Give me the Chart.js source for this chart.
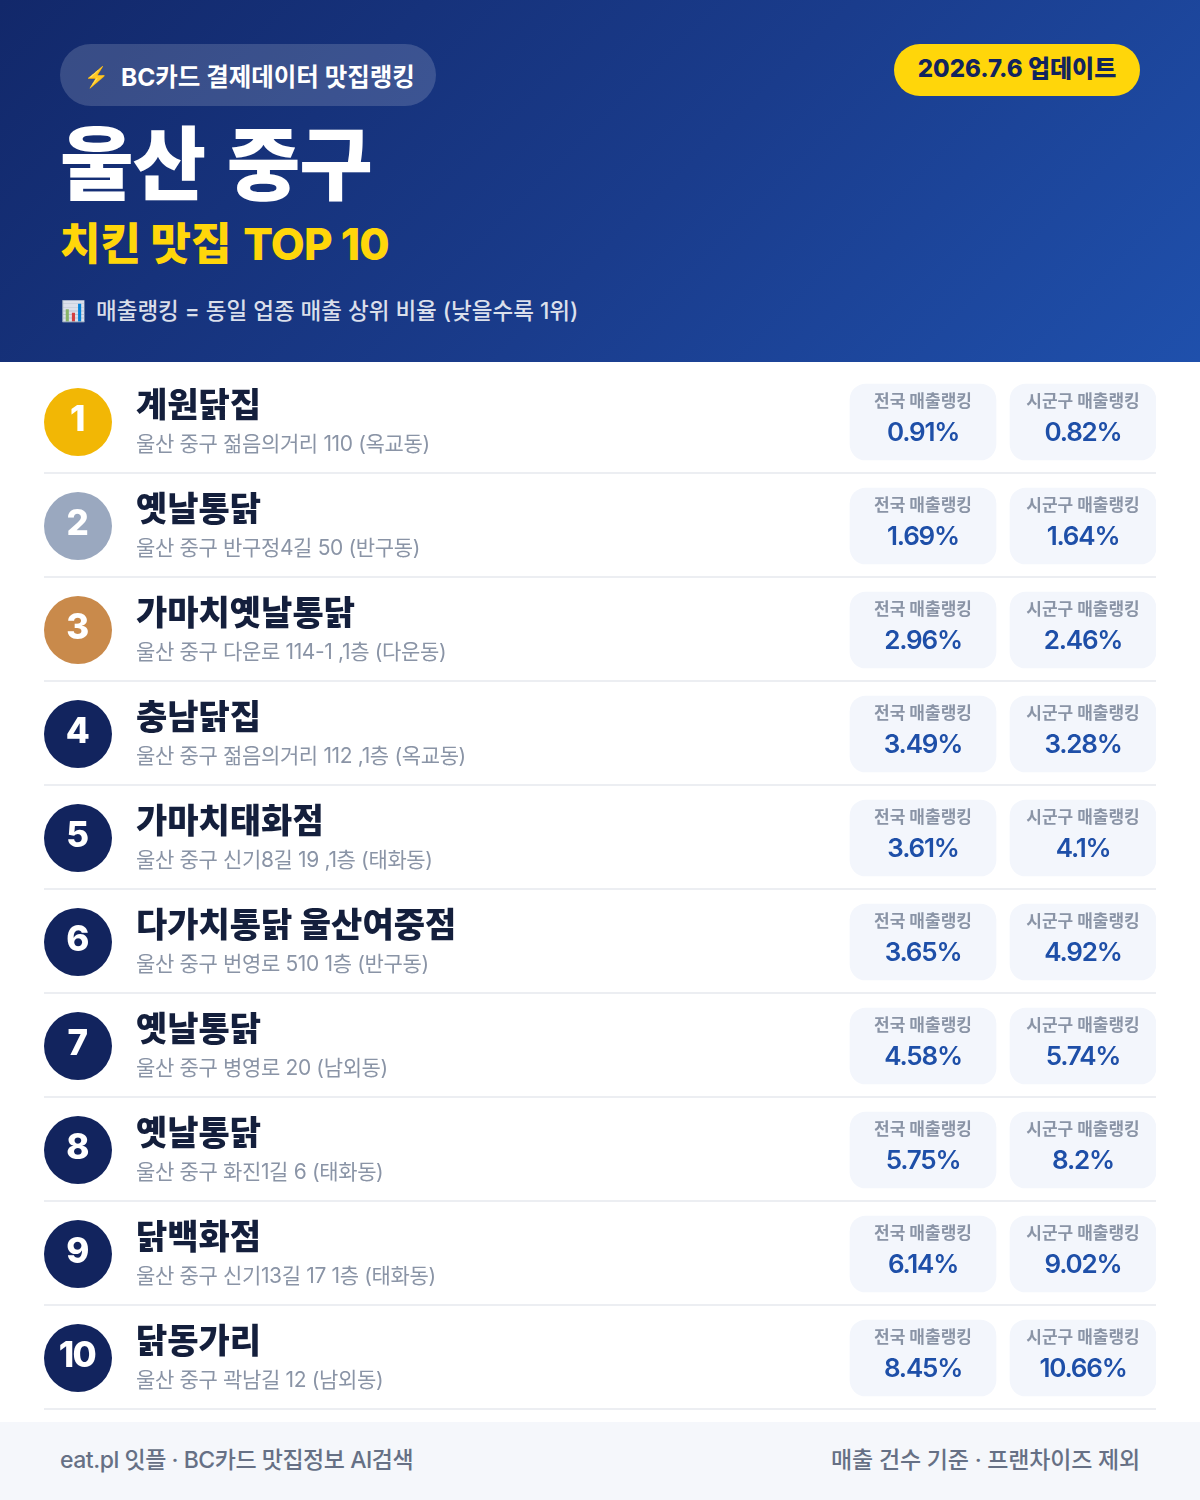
<!DOCTYPE html>
<html lang="ko">

<head>
    <meta charset="UTF-8">
    <title>울산 중구 치킨 맛집 TOP 10</title>
    <script src="https://cdn.jsdelivr.net/npm/chart.js"></script>
    <style>
        html, body {
            margin: 0;
            padding: 0;
            background: #fff;
        }

        body {
            position: relative;
            width: 1200px;
            height: 1500px;
            overflow: hidden;
            font-family: Inter, "Noto Sans CJK KR", sans-serif;
        }

        .header {
            position: absolute;
            left: 0;
            top: 0;
            width: 1200px;
            height: 362px;
            background: linear-gradient(135deg, #12286a 0%, #1a3c8c 55%, #1f50ac 100%);
        }

        .header div {
            position: absolute;
            white-space: nowrap;
        }

        .header span {
            position: absolute;
            white-space: nowrap;
        }

        .badge {
            left: 60px;
            top: 44px;
            width: 376px;
            height: 62px;
            border-radius: 31px;
            background: rgba(255, 255, 255, 0.16);
            color: #fff;
            font-size: 24.5px;
            font-weight: 700;
            line-height: 66px;
        }

        .update {
            left: 894px;
            top: 44px;
            width: 246px;
            height: 52px;
            border-radius: 26px;
            background: #ffd60a;
            color: #12245e;
            font-size: 24px;
            font-weight: 800;
            line-height: 50px;
            text-align: center;
        }

        .title {
            left: 60px;
            top: 105px;
            color: #fff;
            font-size: 80px;
            font-weight: 800;
            line-height: 118px;
            letter-spacing: -1px;
            word-spacing: 5px;
        }

        .subtitle {
            left: 60px;
            top: 212px;
            color: #ffd60a;
            font-size: 44px;
            font-weight: 800;
            line-height: 64px;
        }

        .subtitle b {
            margin-left: 2px;
            font-weight: inherit;
            letter-spacing: -0.8px;
        }

        .note {
            left: 60px;
            top: 292px;
            width: 540px;
            height: 38px;
            color: rgba(255, 255, 255, 0.85);
            font-size: 22.5px;
            font-weight: 500;
            line-height: 38px;
        }

        #rankChart {
            position: absolute;
            left: 0;
            top: 362px;
        }

        .footer {
            position: absolute;
            left: 0;
            top: 1422px;
            width: 1200px;
            height: 78px;
            background: #f5f7fb;
            color: #667085;
            font-size: 23px;
            font-weight: 500;
            line-height: 76px;
        }

        .footer span {
            position: absolute;
            white-space: nowrap;
        }
    </style>
</head>

<body>
    <div class="header">
        <div class="badge"><span style="left:24px;font-size:20px">⚡</span><span style="left:61px">BC카드 결제데이터 맛집랭킹</span></div>
        <div class="update">2026.7.6 업데이트</div>
        <div class="title">울산 중구</div>
        <div class="subtitle">치킨 맛집 <b>TOP 10</b></div>
        <div class="note"><span style="left:1px;font-size:20px">📊</span><span style="left:36px">매출랭킹 = 동일 업종 매출 상위 비율 (낮을수록 1위)</span></div>
    </div>

    <canvas id="rankChart" width="1200" height="1060"></canvas>

    <div class="footer">
        <span style="left:60px;letter-spacing:-0.47px">eat.pl 잇플 · BC카드 맛집정보 AI검색</span>
        <span style="right:60px;letter-spacing:-0.2px">매출 건수 기준 · 프랜차이즈 제외</span>
    </div>

    <script>
        const ranks = ['1', '2', '3', '4', '5', '6', '7', '8', '9', '10'];
        const names = ['계원닭집', '옛날통닭', '가마치옛날통닭', '충남닭집', '가마치태화점',
            '다가치통닭 울산여중점', '옛날통닭', '옛날통닭', '닭백화점', '닭동가리'];
        const addresses = [
            '울산 중구 젊음의거리 110 (옥교동)',
            '울산 중구 반구정4길 50 (반구동)',
            '울산 중구 다운로 114-1 ,1층 (다운동)',
            '울산 중구 젊음의거리 112 ,1층 (옥교동)',
            '울산 중구 신기8길 19 ,1층 (태화동)',
            '울산 중구 번영로 510 1층 (반구동)',
            '울산 중구 병영로 20 (남외동)',
            '울산 중구 화진1길 6 (태화동)',
            '울산 중구 신기13길 17 1층 (태화동)',
            '울산 중구 곽남길 12 (남외동)'
        ];
        const nationalRank = ['0.91%', '1.69%', '2.96%', '3.49%', '3.61%', '3.65%', '4.58%', '5.75%', '6.14%', '8.45%'];
        const districtRank = ['0.82%', '1.64%', '2.46%', '3.28%', '4.1%', '4.92%', '5.74%', '8.2%', '9.02%', '10.66%'];
        const nationalLabel = '전국 매출랭킹';
        const districtLabel = '시군구 매출랭킹';

        const FONT = 'Inter, "Noto Sans CJK KR", sans-serif';
        const circleColors = ['#f2b705', '#9aa8bf', '#c98a4b'];
        const NAVY = '#12245e';

        // x axis runs in page pixels, so the two cards and the badge sit in fixed columns
        const CIRCLE_X = 78;
        const NAME_X = 136;
        const NATIONAL_CARD = [850, 996];
        const DISTRICT_CARD = [1010, 1156];

        function cardMid(card) {
            return (card[0] + card[1]) / 2;
        }

        function drawText(ctx, text, x, y, font, color, align, spacing) {
            ctx.font = font;
            ctx.fillStyle = color;
            ctx.textAlign = align || 'left';
            ctx.textBaseline = 'alphabetic';
            ctx.letterSpacing = spacing || '0px';
            ctx.fillText(text, x, y);
        }

        // Row separators and all the text in the rows, placed through the chart's scales.
        const rowPlugin = {
            id: 'rowPlugin',
            beforeDatasetsDraw(chart) {
                const { ctx, scales: { x, y } } = chart;
                ctx.save();
                ctx.fillStyle = '#eceef2';
                ranks.forEach((r, i) => {
                    ctx.fillRect(x.left, y.getPixelForValue(i) + 50, x.right - x.left, 2);
                });
                ctx.restore();
            },
            afterDatasetsDraw(chart) {
                const { ctx, scales: { x, y } } = chart;
                ctx.save();
                ranks.forEach((r, i) => {
                    const cy = y.getPixelForValue(i);
                    drawText(ctx, r, x.getPixelForValue(CIRCLE_X) - 1, cy + 9, `800 35px ${FONT}`, '#fff', 'center', '-1.5px');
                    drawText(ctx, names[i], x.getPixelForValue(NAME_X), cy - 5, `800 34px ${FONT}`, '#141f3c');
                    drawText(ctx, addresses[i], x.getPixelForValue(NAME_X), cy + 29, `400 21px ${FONT}`, '#8a94a6', 'left', '-0.35px');

                    const nx = x.getPixelForValue(cardMid(NATIONAL_CARD));
                    const dx = x.getPixelForValue(cardMid(DISTRICT_CARD));
                    drawText(ctx, nationalLabel, nx, cy - 15, `700 17px ${FONT}`, '#8a94a6', 'center');
                    drawText(ctx, districtLabel, dx, cy - 15, `700 17px ${FONT}`, '#8a94a6', 'center');
                    drawText(ctx, nationalRank[i], nx, cy + 19, `600 26px ${FONT}`, '#1e4fa8', 'center', '-1.2px');
                    drawText(ctx, districtRank[i], dx, cy + 19, `600 26px ${FONT}`, '#1e4fa8', 'center', '-1.2px');
                });
                ctx.restore();
            }
        };

        new Chart(document.getElementById('rankChart'), {
            data: {
                labels: ranks,
                datasets: [
                    {
                        type: 'bar',
                        label: nationalLabel,
                        data: ranks.map(() => NATIONAL_CARD),
                        backgroundColor: '#f3f6fc',
                        borderRadius: 16,
                        borderSkipped: false,
                        barThickness: 76,
                        grouped: false
                    },
                    {
                        type: 'bar',
                        label: districtLabel,
                        data: ranks.map(() => DISTRICT_CARD),
                        backgroundColor: '#f3f6fc',
                        borderRadius: 16,
                        borderSkipped: false,
                        barThickness: 76,
                        grouped: false
                    },
                    {
                        type: 'line',
                        label: '순위',
                        data: ranks.map(r => ({ x: CIRCLE_X, y: r })),
                        showLine: false,
                        pointRadius: 34,
                        pointHoverRadius: 34,
                        pointBorderWidth: 0,
                        pointBackgroundColor: ranks.map((r, i) => circleColors[i] || NAVY),
                        clip: false
                    }
                ]
            },
            options: {
                indexAxis: 'y',
                responsive: false,
                animation: false,
                devicePixelRatio: 1,
                layout: { autoPadding: false, padding: { left: 44, right: 44, top: 8, bottom: 12 } },
                plugins: {
                    legend: { display: false },
                    tooltip: { enabled: false }
                },
                scales: {
                    x: {
                        type: 'linear',
                        min: 44,
                        max: 1156,
                        display: false
                    },
                    y: {
                        type: 'category',
                        display: false,
                        offset: true
                    }
                }
            },
            plugins: [rowPlugin]
        });
    </script>
</body>

</html>
